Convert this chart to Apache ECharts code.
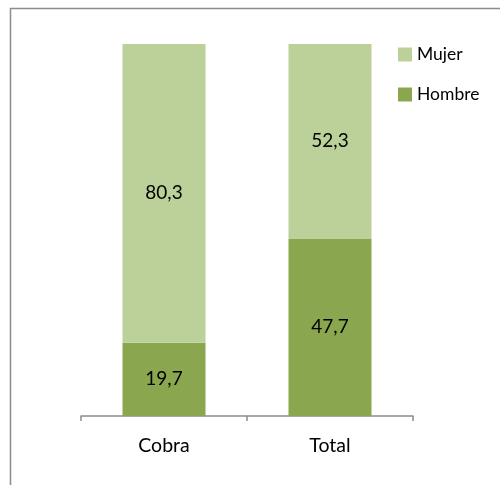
<!DOCTYPE html>
<html>
<head>
<meta charset="utf-8">
<script src="https://cdn.jsdelivr.net/npm/echarts@6/dist/echarts.min.js"></script>
<style>
  html, body { margin: 0; padding: 0; background: #fff; }
  #chart { width: 500px; height: 485px; }
</style>
</head>
<body>
<div id="chart"></div>
<script>
// Categories and percentage shares per group
const categories = ['Cobra', 'Total'];
const hombre = [19.7, 47.7];
const mujer = [80.3, 52.3];

const FONT = 'Lato, "Open Sans", sans-serif';
const fmt = p => String(p.value).replace('.', ',');

const chart = echarts.init(document.getElementById('chart'), null, { renderer: 'canvas' });

chart.setOption({
  animation: false,
  backgroundColor: '#ffffff',
  graphic: [{
    type: 'rect',
    shape: { x: 10.5, y: 8.5, width: 520, height: 520 },
    style: { fill: 'none', stroke: '#8c8c8c', lineWidth: 1.5 },
    silent: true
  }],
  legend: {
    orient: 'vertical',
    left: 393,
    top: 39,
    itemWidth: 14,
    itemHeight: 14,
    itemGap: 19,
    icon: 'rect',
    data: ['Mujer', 'Hombre'],
    textStyle: { fontFamily: FONT, fontSize: 17.5, color: '#000', lineHeight: 21 }
  },
  grid: { left: 81, right: 87, top: 44, bottom: 69 },
  xAxis: {
    type: 'category',
    data: categories,
    axisLine: { show: true, lineStyle: { color: '#8c8c8c', width: 1.5 } },
    axisTick: { show: true, length: 5, alignWithLabel: false, lineStyle: { color: '#8c8c8c', width: 1.5 } },
    axisLabel: { fontFamily: FONT, fontSize: 19.5, color: '#000', margin: 20 }
  },
  yAxis: {
    type: 'value',
    min: 0,
    max: 100,
    show: false,
    splitLine: { show: false }
  },
  series: [
    {
      name: 'Hombre',
      type: 'bar',
      stack: 'total',
      barWidth: '50%',
      data: hombre,
      itemStyle: { color: '#8aa64e' },
      label: { show: true, position: 'inside', formatter: fmt, fontFamily: FONT, fontSize: 19, color: '#000' }
    },
    {
      name: 'Mujer',
      type: 'bar',
      stack: 'total',
      barWidth: '50%',
      data: mujer,
      itemStyle: { color: '#bcd09a' },
      label: { show: true, position: 'inside', formatter: fmt, fontFamily: FONT, fontSize: 19, color: '#000' }
    }
  ]
});
</script>
</body>
</html>
